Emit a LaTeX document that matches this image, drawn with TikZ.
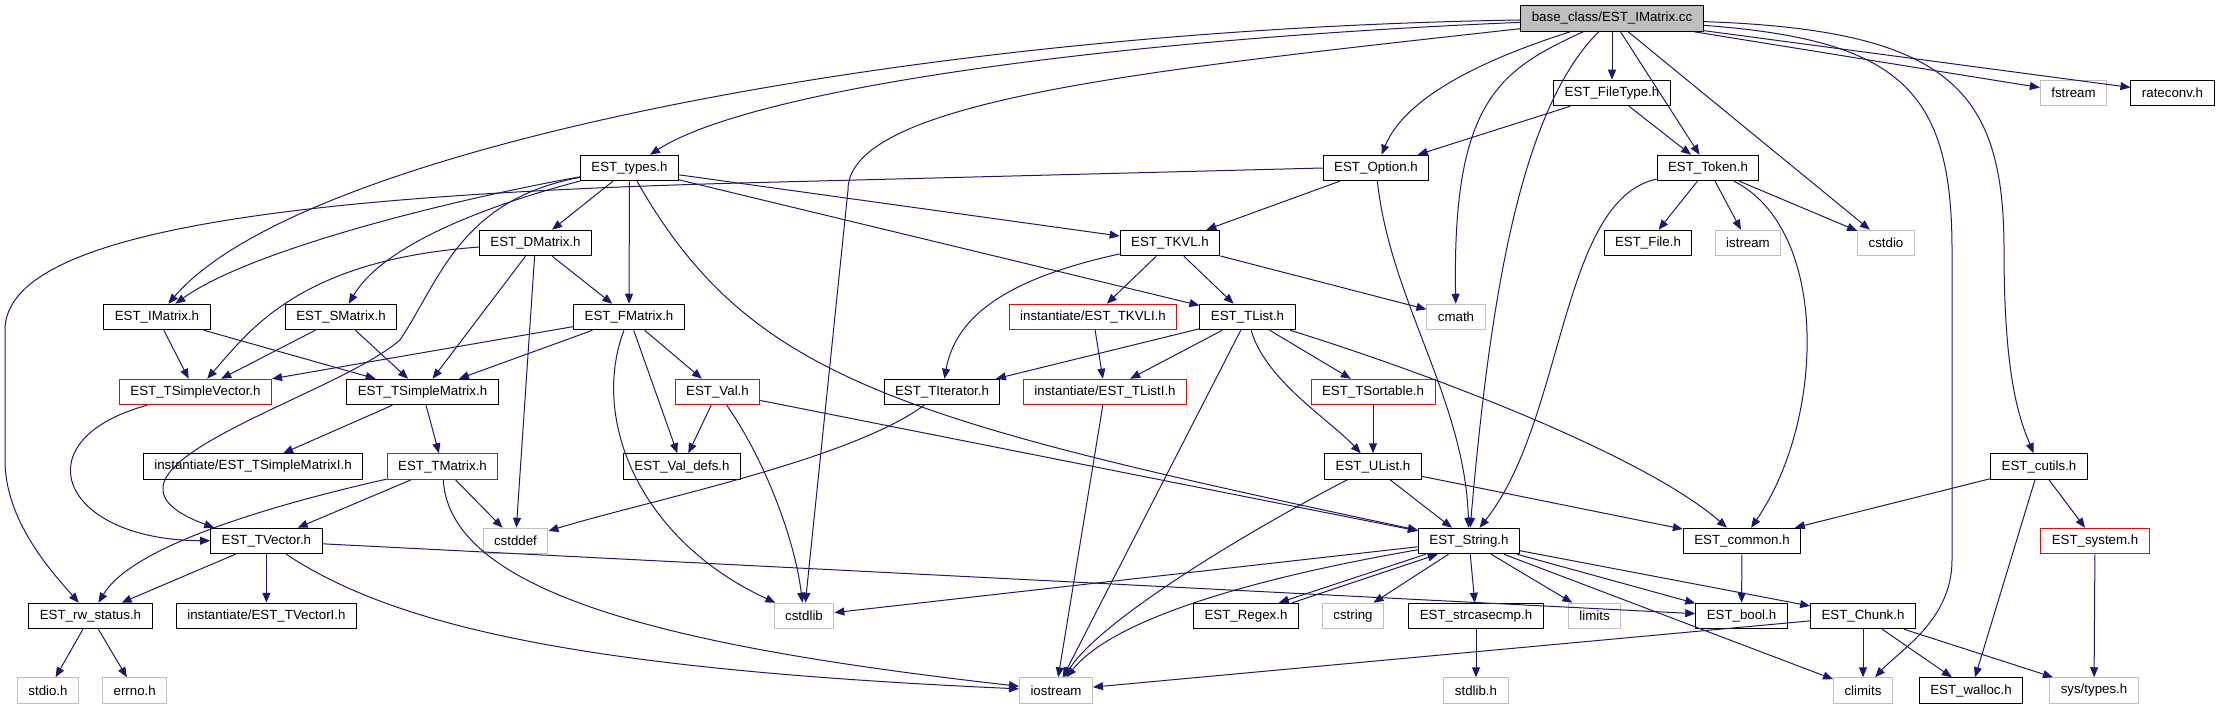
\documentclass[tikz,border=0pt]{standalone}
\usepackage{fontspec}
\setmainfont{Liberation Sans}
\usetikzlibrary{arrows.meta}
\definecolor{edgeblue}{HTML}{191970}
\definecolor{extgray}{HTML}{BFBFBF}
\tikzset{
 hdr/.style={draw=black, line width=1pt, minimum height=25.5pt, inner xsep=11pt, inner ysep=0pt,
  font=\fontsize{13.3pt}{15pt}\selectfont},
 hdrcut/.style={hdr, draw=red},
 hdrsys/.style={hdr, draw=extgray},
 dep/.style={draw=edgeblue, line width=1pt, -{Triangle[length=10pt,width=8pt]}}
}
\begin{document}
\begin{tikzpicture}[x=1pt,y=-1pt]
\useasboundingbox (0,0) rectangle (2219,709);
% rows 1 to 4
\node[hdr, fill=extgray] (imatcc) at (1612,18.5) {base\_class/EST\_IMatrix.cc};
\node[hdr] (ftype) at (1612,93) {EST\_FileType.h};
\node[hdrsys] (fstream) at (2073.5,93) {fstream};
\node[hdr] (rateconv) at (2172.5,93) {rateconv.h};
\node[hdr] (types) at (629.5,168) {EST\_types.h};
\node[hdr] (option) at (1376,168) {EST\_Option.h};
\node[hdr] (token) at (1708,168) {EST\_Token.h};
\node[hdr] (dmatrix) at (535.5,243) {EST\_DMatrix.h};
\node[hdr] (tkvl) at (1170,243) {EST\_TKVL.h};
\node[hdr] (file) at (1648,243) {EST\_File.h};
\node[hdrsys] (istream) at (1748,243) {istream};
\node[hdrsys] (cstdio) at (1886,243) {cstdio};
% rows 5 to 7
\node[hdr] (imatrix) at (157,317) {EST\_IMatrix.h};
\node[hdr] (smatrix) at (341,317) {EST\_SMatrix.h};
\node[hdr] (fmatrix) at (629,317) {EST\_FMatrix.h};
\node[hdrcut] (tkvli) at (1093,317) {instantiate/EST\_TKVLI.h};
\node[hdr] (tlist) at (1247.5,317) {EST\_TList.h};
\node[hdrsys] (cmath) at (1456,317) {cmath};
\node[hdrcut] (tsvector) at (195.5,392) {EST\_TSimpleVector.h};
\node[hdr] (tsmatrix) at (422.5,392) {EST\_TSimpleMatrix.h};
\node[hdrcut] (val) at (717.5,392) {EST\_Val.h};
\node[hdr] (titer) at (942,392) {EST\_TIterator.h};
\node[hdrcut] (tlisti) at (1105,392) {instantiate/EST\_TListI.h};
\node[hdrcut] (tsort) at (1373,392) {EST\_TSortable.h};
\node[hdr] (tsmatrixi) at (253,466.5) {instantiate/EST\_TSimpleMatrixI.h};
\node[hdrcut] (tmatrix) at (442.5,466.5) {EST\_TMatrix.h};
\node[hdr] (valdefs) at (682,466.5) {EST\_Val\_defs.h};
\node[hdr] (ulist) at (1373,466.5) {EST\_UList.h};
\node[hdr] (cutils) at (2039,466.5) {EST\_cutils.h};
% rows 8 to 10
\node[hdr] (tvector) at (266.4,541) {EST\_TVector.h};
\node[hdrsys] (cstddef) at (515.5,541) {cstddef};
\node[hdr] (string) at (1469,541) {EST\_String.h};
\node[hdr] (common) at (1742,541) {EST\_common.h};
\node[hdrcut] (system) at (2095,541) {EST\_system.h};
\node[hdr] (rwstatus) at (90.5,616) {EST\_rw\_status.h};
\node[hdr] (tvectori) at (266.4,616) {instantiate/EST\_TVectorI.h};
\node[hdrsys] (cstdlib) at (804,616) {cstdlib};
\node[hdr] (regex) at (1246,616) {EST\_Regex.h};
\node[hdrsys] (cstring) at (1353,616) {cstring};
\node[hdr] (strcase) at (1476,616) {EST\_strcasecmp.h};
\node[hdrsys] (limits) at (1594.5,616) {limits};
\node[hdr] (bool) at (1741.5,616) {EST\_bool.h};
\node[hdr] (chunk) at (1863,616) {EST\_Chunk.h};
\node[hdrsys] (stdio) at (48,690.5) {stdio.h};
\node[hdrsys] (errno) at (134.7,690.5) {errno.h};
\node[hdrsys] (iostream) at (1056,690.5) {iostream};
\node[hdrsys] (stdlib) at (1476,690.5) {stdlib.h};
\node[hdrsys] (climits) at (1863,690.5) {climits};
\node[hdr] (walloc) at (1971,690.5) {EST\_walloc.h};
\node[hdrsys] (systypes) at (2094,690.5) {sys/types.h};
% the source file
\draw[dep] (imatcc) .. controls (900,30) and (300,150) .. (imatrix);
\draw[dep] (imatcc) .. controls (1100,40) and (750,90) .. (types);
\draw[dep] (imatcc) .. controls (1150,70) and (848,100) .. (848,190) -- (cstdlib);
\draw[dep] (imatcc) -- (ftype);
\draw[dep] (imatcc) .. controls (1450,70) and (1400,110) .. (option);
\draw[dep] (imatcc) .. controls (1500,70) and (1452,100) .. (cmath);
\draw[dep] (imatcc) .. controls (1520,110) and (1490,300) .. (string);
\draw[dep] (imatcc) -- (token);
\draw[dep] (imatcc) -- (cstdio);
\draw[dep] (imatcc) .. controls (1900,40) and (1952,90) .. (1952,250) -- (1952,560) .. controls (1952,620) and (1900,650) .. (climits);
\draw[dep] (imatcc) .. controls (1950,30) and (2004,90) .. (2004,250) .. controls (2004,380) and (2020,420) .. (cutils);
\draw[dep] (imatcc) -- (fstream);
\draw[dep] (imatcc) -- (rateconv);
\draw[dep] (ftype) -- (option);
\draw[dep] (ftype) -- (token);
% EST_types.h
\draw[dep] (types) .. controls (450,200) and (250,250) .. (imatrix);
\draw[dep] (types) .. controls (470,210) and (380,250) .. (smatrix);
\draw[dep] (types) .. controls (460,200) and (440,280) .. (400,340) .. controls (330,400) and (60,470) .. ([xshift=4pt]tvector.north west);
\draw[dep] (types) -- (dmatrix);
\draw[dep] (types) -- (fmatrix);
\draw[dep] (types) -- (tkvl);
\draw[dep] (types) -- (tlist);
\draw[dep] (types) .. controls (750,380) and (900,420) .. (string);
% EST_Option.h, EST_TKVL.h, EST_TList.h
\draw[dep] (option) -- (tkvl);
\draw[dep] (option) .. controls (1390,300) and (1465,400) .. (string);
\draw[dep] (option.west) -- (740,183) .. controls (300,195) and (5,230) .. (5,330) -- (5,460) .. controls (5,520) and (50,570) .. (rwstatus);
\draw[dep] (tkvl) -- (tkvli);
\draw[dep] (tkvl) -- (tlist);
\draw[dep] (tkvl) -- (cmath);
\draw[dep] (tkvl) .. controls (1000,280) and (955,320) .. (titer);
\draw[dep] (tlist) -- (titer);
\draw[dep] (tlist) -- (tlisti);
\draw[dep] (tlist) -- (iostream);
\draw[dep] (tlist) .. controls (1265,380) and (1330,420) .. (ulist);
\draw[dep] (tlist) .. controls (1450,380) and (1650,460) .. (common);
\draw[dep] (tlist) -- (tsort);
\draw[dep] (tkvli) -- (tlisti);
\draw[dep] (titer) .. controls (850,460) and (650,500) .. (cstddef);
\draw[dep] (tlisti) -- (iostream);
\draw[dep] (tsort) -- (ulist);
\draw[dep] (ulist) .. controls (1250,530) and (1100,620) .. (iostream);
\draw[dep] (ulist) -- (string);
\draw[dep] (ulist) -- (common);
% EST_Token.h
\draw[dep] (token) .. controls (1560,200) and (1565,420) .. (string);
\draw[dep] (token) -- (file);
\draw[dep] (token) -- (istream);
\draw[dep] (token) -- (cstdio);
\draw[dep] (token) .. controls (1830,230) and (1825,420) .. (common);
% matrices
\draw[dep] (dmatrix) .. controls (300,260) and (250,330) .. (tsvector);
\draw[dep] (dmatrix) -- (tsmatrix);
\draw[dep] (dmatrix) -- (fmatrix);
\draw[dep] (dmatrix) -- (cstddef);
\draw[dep] (imatrix) -- (tsvector);
\draw[dep] (imatrix) -- (tsmatrix);
\draw[dep] (smatrix) -- (tsvector);
\draw[dep] (smatrix) -- (tsmatrix);
\draw[dep] (fmatrix) -- (tsvector);
\draw[dep] (fmatrix) -- (tsmatrix);
\draw[dep] (fmatrix) -- (val);
\draw[dep] (fmatrix) -- (valdefs);
\draw[dep] (fmatrix) .. controls (590,420) and (640,540) .. (cstdlib);
\draw[dep] (val) -- (valdefs);
\draw[dep] (val) .. controls (765,460) and (795,540) .. (cstdlib);
\draw[dep] (val) -- (string);
\draw[dep] (tsvector) .. controls (20,440) and (60,540) .. (tvector);
\draw[dep] (tsmatrix) -- (tsmatrixi);
\draw[dep] (tsmatrix) -- (tmatrix);
\draw[dep] (tmatrix) .. controls (250,510) and (130,550) .. (rwstatus);
\draw[dep] (tmatrix) -- (tvector);
\draw[dep] (tmatrix) -- (cstddef);
\draw[dep] (tmatrix) .. controls (450,600) and (700,650) .. (iostream);
\draw[dep] (tvector) -- (rwstatus);
\draw[dep] (tvector) -- (tvectori);
\draw[dep] (tvector) .. controls (400,630) and (600,670) .. (iostream);
\draw[dep] (tvector) -- (bool);
\draw[dep] (rwstatus) -- (stdio);
\draw[dep] (rwstatus) -- (errno);
% EST_String.h and below
\draw[dep] (string) -- (cstdlib);
\draw[dep] (string) .. controls (1300,570) and (1120,610) .. (iostream);
\draw[dep] (string.197) -- (regex.22);
\draw[dep] (regex.16) -- (string.203);
\draw[dep] (string) -- (cstring);
\draw[dep] (string) -- (strcase);
\draw[dep] (string) -- (limits);
\draw[dep] (string) -- (bool);
\draw[dep] (string) -- (chunk);
\draw[dep] (string) -- (climits);
\draw[dep] (strcase) -- (stdlib);
\draw[dep] (chunk) -- (iostream);
\draw[dep] (chunk) -- (climits);
\draw[dep] (chunk) -- (walloc);
\draw[dep] (chunk) -- (systypes);
\draw[dep] (common) -- (bool);
\draw[dep] (cutils) -- (common);
\draw[dep] (cutils) -- (walloc);
\draw[dep] (cutils) -- (system);
\draw[dep] (system) -- (systypes);
\end{tikzpicture}
\end{document}
